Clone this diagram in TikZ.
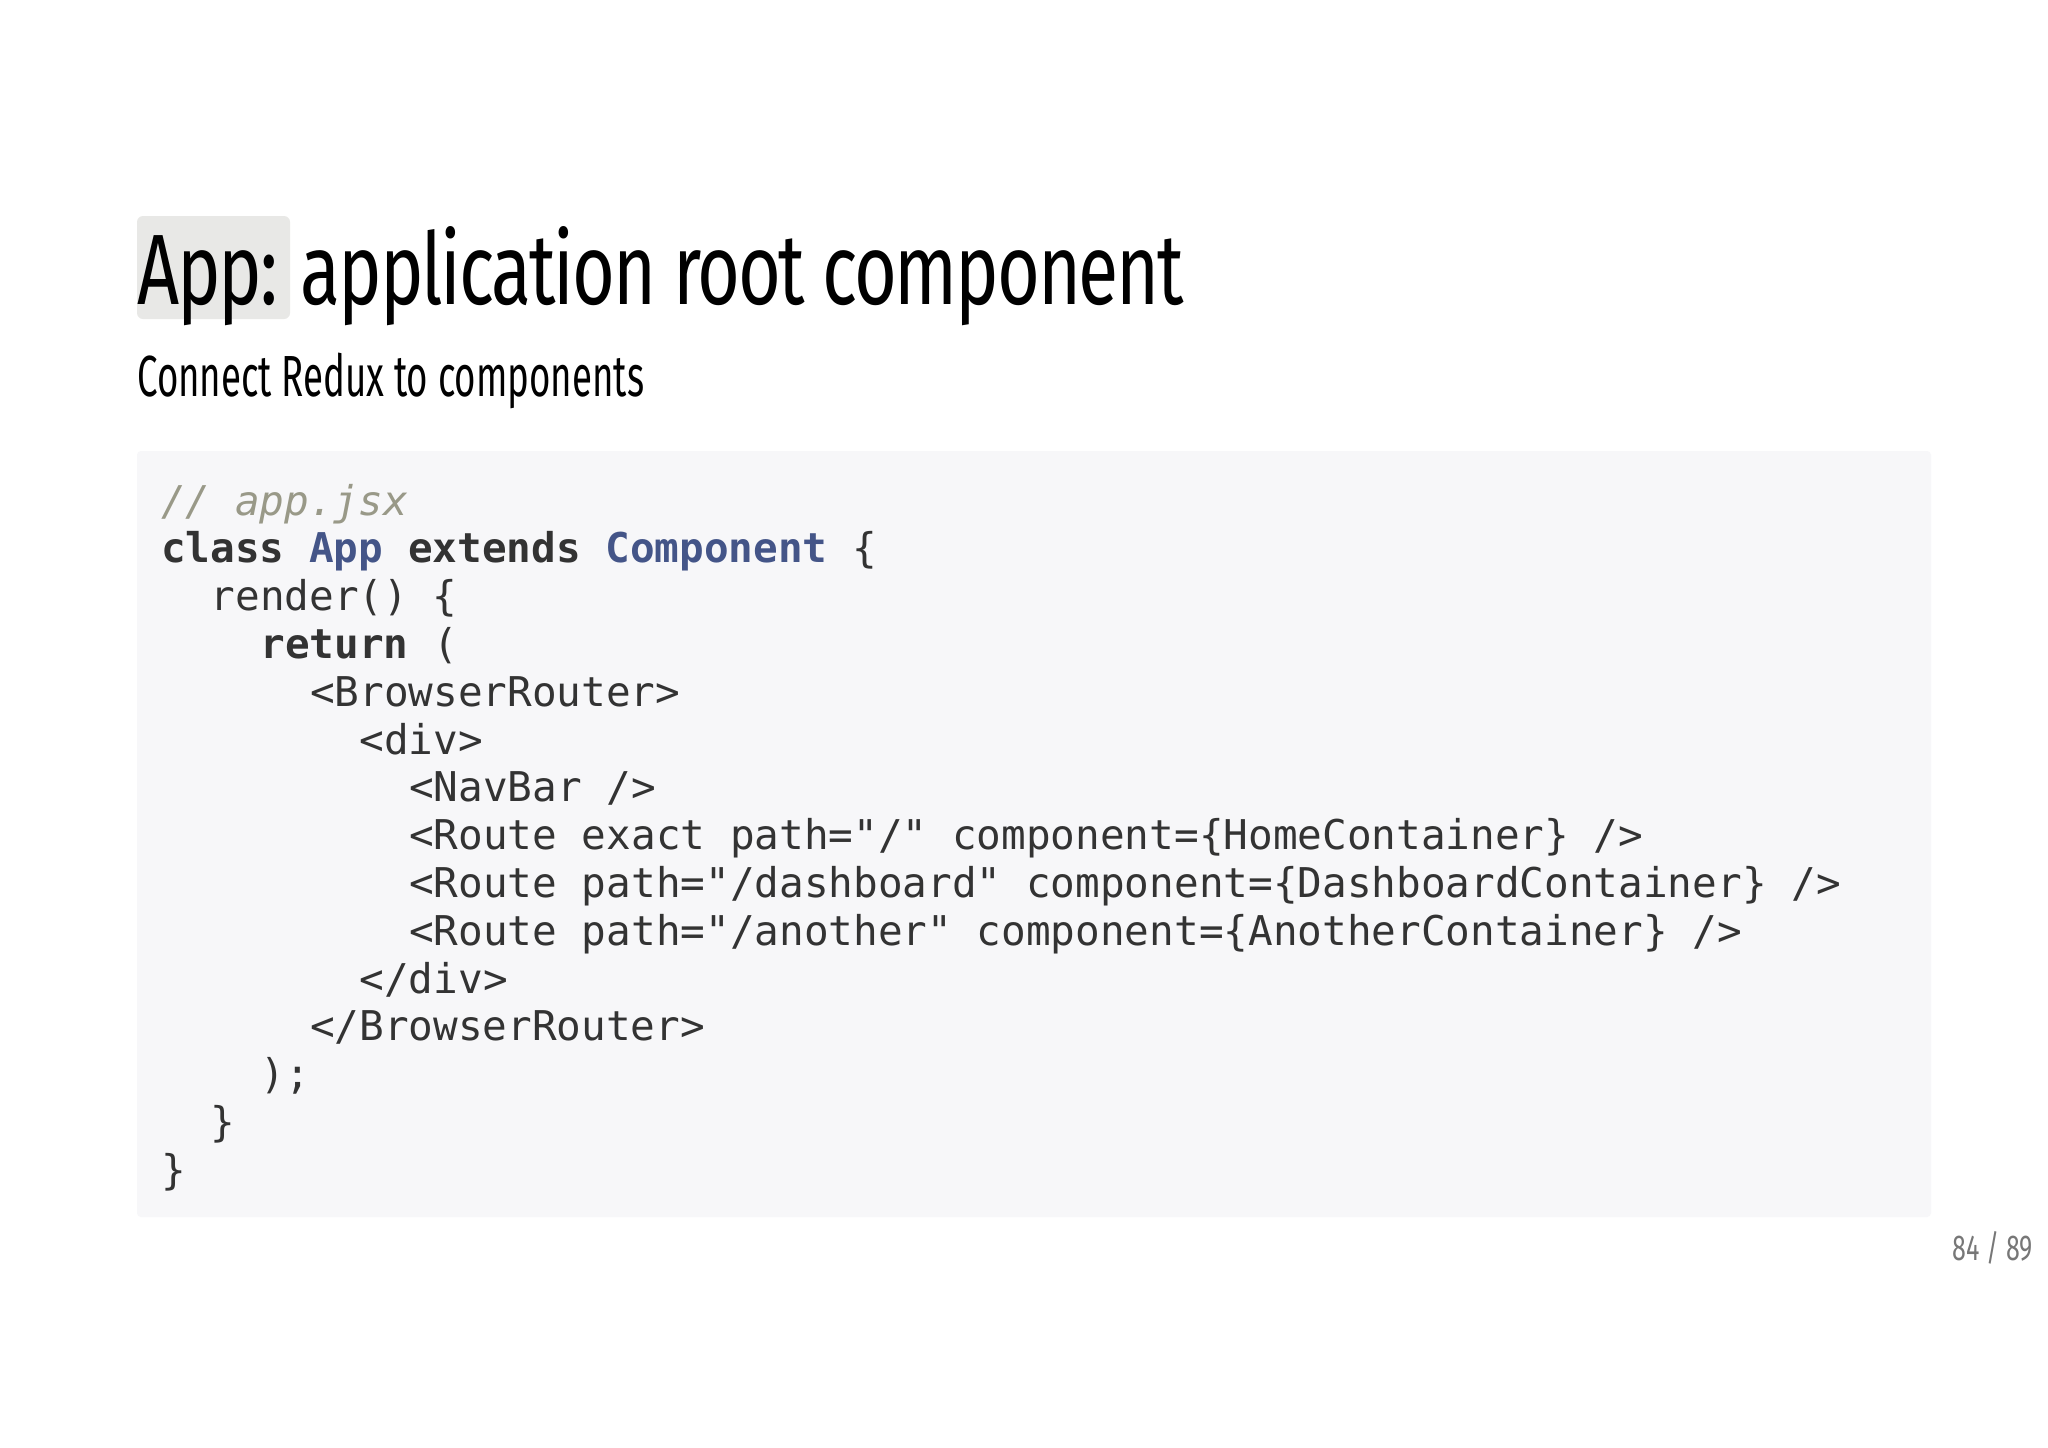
\documentclass[tikz,border=0pt]{standalone}
\usepackage{fontspec}
\usepackage{graphicx}
\setmainfont{Fira Sans}
\newfontfamily\codefont{DejaVu Sans Mono}
\definecolor{codebg}{HTML}{F7F7F9}
\definecolor{hl}{HTML}{E8E8E6}
\definecolor{txt}{HTML}{333333}
\definecolor{cmt}{HTML}{999988}
\definecolor{cls}{HTML}{445588}
\definecolor{pg}{HTML}{777777}
\begin{document}
\begin{tikzpicture}[x=1pt,y=-1pt,
  codeline/.style={anchor=base west,inner sep=0pt,text=txt,font=\codefont\fontsize{41}{41}\selectfont}]
\useasboundingbox (0,0) rectangle (2048,1448);
\fill[white] (0,0) rectangle (2048,1448);
\fill[hl,rounded corners=6pt] (137,216) rectangle (290,319);
\node[anchor=base west,inner sep=0pt] (title) at (137,304)
  {\resizebox{1047pt}{\height}{\fontsize{100}{100}\selectfont\addfontfeature{LetterSpace=-3}App: application root component}};
\node[anchor=base west,inner sep=0pt] (sub) at (137,396)
  {\resizebox{507pt}{\height}{\fontsize{58}{58}\selectfont Connect Redux to components}};
\fill[codebg,rounded corners=4pt] (137,451) rectangle (1931,1217);
\def\cw{24.8}
\node[codeline,text=cmt] (l1) at (161,515) {\itshape // app.jsx};
\node[codeline] (l2) at (161,562.8) {\textbf{class} \textcolor{cls}{\textbf{App}} \textbf{extends} \textcolor{cls}{\textbf{Component}} \{};
\node[codeline] (l3) at (161+2*\cw,610.6) {render() \{};
\node[codeline] (l4) at (161+4*\cw,658.4) {\textbf{return} (};
\node[codeline] (l5) at (161+6*\cw,706.2) {<BrowserRouter>};
\node[codeline] (l6) at (161+8*\cw,754) {<div>};
\node[codeline] (l7) at (161+10*\cw,801.8) {<NavBar />};
\node[codeline] (l8) at (161+10*\cw,849.6) {<Route exact path="/" component=\{HomeContainer\} />};
\node[codeline] (l9) at (161+10*\cw,897.4) {<Route path="/dashboard" component=\{DashboardContainer\} />};
\node[codeline] (l10) at (161+10*\cw,945.2) {<Route path="/another" component=\{AnotherContainer\} />};
\node[codeline] (l11) at (161+8*\cw,993) {</div>};
\node[codeline] (l12) at (161+6*\cw,1040.8) {</BrowserRouter>};
\node[codeline] (l13) at (161+4*\cw,1088.6) {);};
\node[codeline] (l14) at (161+2*\cw,1136.4) {\}};
\node[codeline] (l15) at (161,1184.2) {\}};
\node[anchor=base east,inner sep=0pt,text=pg] (page) at (2033,1260)
  {\resizebox{80pt}{\height}{\fontsize{36}{36}\selectfont 84 / 89}};
\end{tikzpicture}
\end{document}
